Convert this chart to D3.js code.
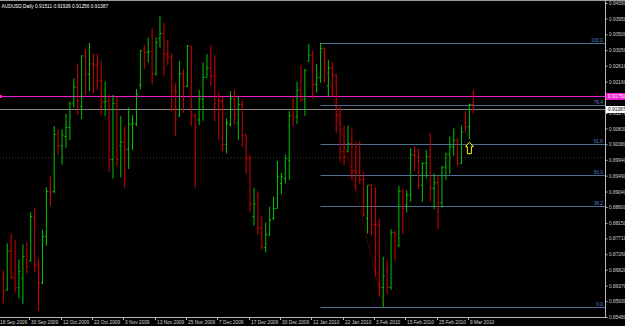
<!DOCTYPE html>
<html>
<head>
<meta charset="utf-8">
<script src="https://cdn.jsdelivr.net/npm/d3@7"></script>
<style>
  html, body { margin: 0; padding: 0; background: #000; }
  svg { display: block; }
  text { font-family: 'Liberation Sans', Arial, sans-serif; }
</style>
</head>
<body>
<div id="chart"></div>
<script>
// AUDUSD daily bars, 21 Sep 2009 .. 10 Mar 2010 (bar index 1..121)
const firstBar = 1
const barOpen = [
  0.8658, 0.8625, 0.8735, 0.8660, 0.8631, 0.8658, 0.8721, 0.8707, 0.8828, 0.8695,
  0.8645, 0.8776, 0.8905, 0.8904, 0.9066, 0.9034, 0.9060, 0.9086, 0.9153, 0.9200,
  0.9145, 0.9289, 0.9237, 0.9266, 0.9263, 0.9218, 0.9157, 0.9161, 0.8995, 0.9154,
  0.9034, 0.9044, 0.9024, 0.9095, 0.9095, 0.9206, 0.9303, 0.9299, 0.9301, 0.9238,
  0.9339, 0.9353, 0.9294, 0.9285, 0.9192, 0.9119, 0.9238, 0.9203, 0.9317, 0.9121,
  0.9107, 0.9166, 0.9228, 0.9254, 0.9232, 0.9173, 0.9159, 0.9038, 0.9095, 0.9167,
  0.9099, 0.9151, 0.9062, 0.8998, 0.8833, 0.8889, 0.8800, 0.8745, 0.8780, 0.8828,
  0.8856, 0.8927, 0.8940, 0.8993, 0.9119, 0.9116, 0.9192, 0.9166, 0.9274, 0.9291,
  0.9208, 0.9228, 0.9308, 0.9204, 0.9254, 0.9234, 0.9121, 0.9017, 0.9017, 0.9041,
  0.8963, 0.8963, 0.8938, 0.8828, 0.8922, 0.8811, 0.8811, 0.8632, 0.8681, 0.8632,
  0.8788, 0.8750, 0.8905, 0.8866, 0.8894, 0.9009, 0.9003, 0.8922, 0.8984, 0.9003,
  0.8913, 0.8929, 0.8872, 0.8973, 0.9010, 0.9031, 0.9050, 0.8984, 0.9099, 0.9088,
  0.91511
]
const barHigh = [
  0.8681, 0.8757, 0.8785, 0.8766, 0.8712, 0.8754, 0.8760, 0.8846, 0.8856, 0.8712,
  0.8795, 0.8916, 0.8948, 0.9090, 0.9081, 0.9081, 0.9124, 0.9159, 0.9225, 0.9268,
  0.9291, 0.9308, 0.9326, 0.9296, 0.9294, 0.9275, 0.9216, 0.9178, 0.9178, 0.9173,
  0.9118, 0.9090, 0.9142, 0.9121, 0.9195, 0.9306, 0.9320, 0.9341, 0.9367, 0.9341,
  0.9403, 0.9383, 0.9334, 0.9296, 0.9211, 0.9274, 0.9252, 0.9320, 0.9317, 0.9124,
  0.9192, 0.9270, 0.9294, 0.9320, 0.9291, 0.9185, 0.9173, 0.9112, 0.9189, 0.9192,
  0.9173, 0.9164, 0.9067, 0.9008, 0.8915, 0.8905, 0.8833, 0.8817, 0.8861, 0.8889,
  0.8991, 0.8957, 0.9009, 0.9133, 0.9173, 0.9216, 0.9263, 0.9252, 0.9323, 0.9304,
  0.9265, 0.9326, 0.9313, 0.9277, 0.9272, 0.9238, 0.9145, 0.9091, 0.9091, 0.9083,
  0.9044, 0.9047, 0.8960, 0.8922, 0.8925, 0.8915, 0.8826, 0.8719, 0.8708, 0.8797,
  0.8792, 0.8920, 0.8911, 0.8908, 0.9027, 0.9034, 0.9025, 0.8987, 0.9022, 0.9069,
  0.8955, 0.8949, 0.8977, 0.9014, 0.9060, 0.9083, 0.9055, 0.9091, 0.9132, 0.9154,
  0.91926
]
const barLow = [
  0.8587, 0.8622, 0.8655, 0.8617, 0.8601, 0.8584, 0.8672, 0.8705, 0.8675, 0.8565,
  0.8641, 0.8750, 0.8863, 0.8899, 0.9008, 0.8980, 0.9028, 0.9050, 0.9143, 0.9121,
  0.9110, 0.9178, 0.9189, 0.9183, 0.9192, 0.9121, 0.9118, 0.8960, 0.8941, 0.8975,
  0.8944, 0.8915, 0.8968, 0.9022, 0.9090, 0.9194, 0.9252, 0.9270, 0.9207, 0.9233,
  0.9312, 0.9233, 0.9263, 0.9131, 0.9060, 0.9116, 0.9128, 0.9200, 0.9090, 0.8915,
  0.9093, 0.9105, 0.9228, 0.9204, 0.9104, 0.9050, 0.9017, 0.9012, 0.9088, 0.9093,
  0.9050, 0.9031, 0.8954, 0.8844, 0.8807, 0.8781, 0.8740, 0.8731, 0.8779, 0.8823,
  0.8856, 0.8897, 0.8927, 0.8937, 0.9088, 0.9096, 0.9159, 0.9119, 0.9274, 0.9167,
  0.9185, 0.9213, 0.9213, 0.9173, 0.9173, 0.9071, 0.8989, 0.8979, 0.9017, 0.8937,
  0.8908, 0.8927, 0.8833, 0.8785, 0.8781, 0.8662, 0.8606, 0.8577, 0.8612, 0.8625,
  0.8708, 0.8747, 0.8785, 0.8845, 0.8875, 0.8962, 0.8911, 0.8875, 0.8941, 0.8875,
  0.8854, 0.8798, 0.8858, 0.8937, 0.8954, 0.9006, 0.8977, 0.8982, 0.9074, 0.9053,
  0.91256
]
const barClose = [
  0.8622, 0.8735, 0.8660, 0.8631, 0.8677, 0.8719, 0.8691, 0.8833, 0.8695, 0.8645,
  0.8776, 0.8904, 0.8902, 0.9066, 0.9034, 0.9064, 0.9086, 0.9153, 0.9200, 0.9161,
  0.9289, 0.9237, 0.9266, 0.9263, 0.9218, 0.9157, 0.9161, 0.8995, 0.9154, 0.8995,
  0.9044, 0.9024, 0.9095, 0.9098, 0.9180, 0.9304, 0.9299, 0.9301, 0.9238, 0.9327,
  0.9353, 0.9294, 0.9285, 0.9189, 0.9185, 0.9238, 0.9202, 0.9317, 0.9121, 0.9085,
  0.9166, 0.9228, 0.9254, 0.9232, 0.9154, 0.9159, 0.9038, 0.9098, 0.9167, 0.9123,
  0.9151, 0.9062, 0.8998, 0.8869, 0.8869, 0.8800, 0.8747, 0.8782, 0.8823, 0.8856,
  0.8946, 0.8946, 0.8998, 0.9119, 0.9114, 0.9192, 0.9164, 0.9247, 0.9291, 0.9208,
  0.9228, 0.9310, 0.9277, 0.9254, 0.9234, 0.9121, 0.9017, 0.9003, 0.9041, 0.8963,
  0.8960, 0.8938, 0.8835, 0.8922, 0.8811, 0.8807, 0.8632, 0.8664, 0.8632, 0.8788,
  0.8783, 0.8905, 0.8856, 0.8894, 0.9008, 0.9006, 0.8922, 0.8984, 0.9003, 0.8913,
  0.8929, 0.8872, 0.8973, 0.9010, 0.9031, 0.9050, 0.8984, 0.9072, 0.9088, 0.9151,
  0.91387
]

// axis ticks
const priceTicks = [
  0.94390, 0.93950, 0.93500, 0.93050, 0.92610, 0.92160, 0.91717, 0.91270, 0.90830, 0.90380,
  0.89940, 0.89490, 0.89040, 0.88600, 0.88150, 0.87710, 0.87260, 0.86820, 0.86370, 0.85930, 0.85480
]
const dateTickIndex = [0, 8, 16, 24, 32, 40, 48, 56, 64, 72, 80, 88, 96, 104, 112, 120]
const dateTickLabels = [
  '18 Sep 2009', '30 Sep 2009', '12 Oct 2009', '22 Oct 2009', '3 Nov 2009', '13 Nov 2009',
  '25 Nov 2009', '7 Dec 2009', '17 Dec 2009', '30 Dec 2009', '12 Jan 2010', '22 Jan 2010',
  '3 Feb 2010', '15 Feb 2010', '25 Feb 2010', '9 Mar 2010'
]

// fibonacci retracement from 12 Jan 2010 high to 5 Feb 2010 low
const fibStartIndex = 82
const fibEndIndex = 98
const fibHigh = 0.9326
const fibLow = 0.8577
const fibLevels = [0, 38.2, 50, 61.8, 76.4, 100]
const fibLabels = ['0.0', '38.2', '50.0', '61.8', '76.4', '100.0']

// other objects
const magentaLinePrice = 0.91750
const magentaLineLabel = '0.91750'
const dottedLinePrice = 0.90000
const bidPrice = 0.91387
const arrowIndex = 120
const arrowPrice = 0.9044
const header = 'AUDUSD,Daily  0.91511 0.91926 0.91256 0.91387'

const W = 625
const H = 326
const plotRight = 605
const plotBottom = 317

const svg = d3.select('#chart').append('svg')
  .attr('width', W)
  .attr('height', H)
  .style('background', '#000')

const x = d3.scaleLinear().domain([0, 121]).range([-0.6, 473.3])
const y = d3.scaleLinear().domain([0.85480, 0.94390]).range([plotBottom, 3])

const plot = svg.append('g')
svg.append('defs').append('clipPath').attr('id', 'clip')
  .append('rect').attr('x', 0).attr('y', 0).attr('width', plotRight).attr('height', plotBottom)
plot.attr('clip-path', 'url(#clip)')

// frame
svg.append('line').attr('x1', 0).attr('x2', W).attr('y1', 0.5).attr('y2', 0.5)
  .attr('stroke', '#9a9a9a').attr('stroke-width', 1)

// dotted line at 0.9000
plot.append('line')
  .attr('x1', 0).attr('x2', plotRight)
  .attr('y1', y(dottedLinePrice)).attr('y2', y(dottedLinePrice))
  .attr('stroke', '#3a3a3a').attr('stroke-dasharray', '1,2')

// fibonacci lines
const fibScale = d3.scaleLinear().domain([0, 100]).range([fibLow, fibHigh])
fibLevels.forEach((lv, k) => {
  const yy = Math.round(y(fibScale(lv))) + 0.5
  plot.append('line')
    .attr('x1', x(fibStartIndex)).attr('x2', plotRight)
    .attr('y1', yy).attr('y2', yy)
    .attr('stroke', '#4d6f94').attr('stroke-width', 1)
  plot.append('text')
    .attr('x', plotRight - 2).attr('y', yy - 1.5)
    .attr('text-anchor', 'end')
    .attr('fill', '#4f80c0')
    .style('font-size', '4.8px')
    .text(fibLabels[k])
})

// fib trend line (dotted red)
plot.append('line')
  .attr('x1', x(fibStartIndex)).attr('y1', y(fibHigh))
  .attr('x2', x(fibEndIndex)).attr('y2', y(fibLow))
  .attr('stroke', '#b00000').attr('stroke-width', 1)
  .attr('stroke-dasharray', '1,1.5')

// bid line and magenta line
plot.append('line')
  .attr('x1', 0).attr('x2', plotRight)
  .attr('y1', Math.round(y(bidPrice)) + 0.5).attr('y2', Math.round(y(bidPrice)) + 0.5)
  .attr('stroke', '#858585')
plot.append('line')
  .attr('x1', 0).attr('x2', plotRight)
  .attr('y1', Math.round(y(magentaLinePrice)) + 0.5).attr('y2', Math.round(y(magentaLinePrice)) + 0.5)
  .attr('stroke', '#ec1ed0')
svg.append('rect')
  .attr('x', 0).attr('y', Math.round(y(magentaLinePrice)) - 1)
  .attr('width', 2).attr('height', 3)
  .attr('fill', '#ec1ed0')

// OHLC bars
const bars = barOpen.map((o, k) => ({
  i: k + firstBar, o, h: barHigh[k], l: barLow[k], c: barClose[k]
}))
const barG = plot.selectAll('g.bar').data(bars).enter().append('g')
  .attr('stroke', d => d.c >= d.o ? '#00c400' : '#d40000')
  .attr('stroke-width', 1)
barG.append('line')
  .attr('x1', d => x(d.i)).attr('x2', d => x(d.i))
  .attr('y1', d => y(d.h)).attr('y2', d => y(d.l))
barG.append('line')
  .attr('x1', d => x(d.i) - 1.5).attr('x2', d => x(d.i))
  .attr('y1', d => y(d.o)).attr('y2', d => y(d.o))
barG.append('line')
  .attr('x1', d => x(d.i)).attr('x2', d => x(d.i) + 1.5)
  .attr('y1', d => y(d.c)).attr('y2', d => y(d.c))

// yellow arrow
const ax = x(arrowIndex)
const ay = y(arrowPrice)
plot.append('path')
  .attr('d', `M${ax},${ay} L${ax + 4},${ay + 4.5} L${ax + 2},${ay + 4.5} L${ax + 2},${ay + 11.5} L${ax - 2},${ay + 11.5} L${ax - 2},${ay + 4.5} L${ax - 4},${ay + 4.5} Z`)
  .attr('fill', '#000').attr('stroke', '#ffff00').attr('stroke-width', 1)

// right price axis
svg.append('line').attr('x1', plotRight + 0.5).attr('x2', plotRight + 0.5)
  .attr('y1', 0).attr('y2', plotBottom + 1)
  .attr('stroke', '#b8b8b8')
const yAxis = d3.axisRight(y).tickValues(priceTicks).tickSize(2).tickFormat(d3.format('.5f'))
const gy = svg.append('g').attr('transform', `translate(${plotRight + 0.5},0)`).call(yAxis)
gy.select('.domain').remove()
gy.selectAll('line').attr('stroke', '#b8b8b8')
gy.selectAll('text').attr('fill', '#d0d0d0').attr('x', 3.5).style('font-size', '4.8px')

// price labels on the axis
function priceBox (price, label, bg, fg) {
  const yy = Math.round(y(price)) + 0.5
  svg.append('rect')
    .attr('x', plotRight + 1).attr('y', yy - 3.5)
    .attr('width', 19).attr('height', 7)
    .attr('fill', bg)
  svg.append('text')
    .attr('x', plotRight + 3).attr('y', yy + 1.8)
    .attr('fill', fg).style('font-size', '4.8px')
    .text(label)
}
priceBox(magentaLinePrice, magentaLineLabel, '#ec1ed0', '#ffffff')
priceBox(bidPrice, d3.format('.5f')(bidPrice), '#ffffff', '#000000')

// bottom date axis
svg.append('line').attr('x1', 0).attr('x2', plotRight + 1)
  .attr('y1', plotBottom + 0.5).attr('y2', plotBottom + 0.5)
  .attr('stroke', '#b8b8b8')
dateTickIndex.forEach((idx, k) => {
  const tx = Math.round(x(idx) - 1.5) + 0.5
  svg.append('line')
    .attr('x1', tx).attr('x2', tx)
    .attr('y1', plotBottom).attr('y2', plotBottom + 3)
    .attr('stroke', '#b8b8b8')
  svg.append('text')
    .attr('x', tx + 1.5).attr('y', plotBottom + 6.5)
    .attr('fill', '#d0d0d0').style('font-size', '4.8px')
    .text(dateTickLabels[k])
})

// header
svg.append('text')
  .attr('x', 1.5).attr('y', 7.5)
  .attr('fill', '#ffffff').style('font-size', '4.8px')
  .text(header)
</script>
</body>
</html>
